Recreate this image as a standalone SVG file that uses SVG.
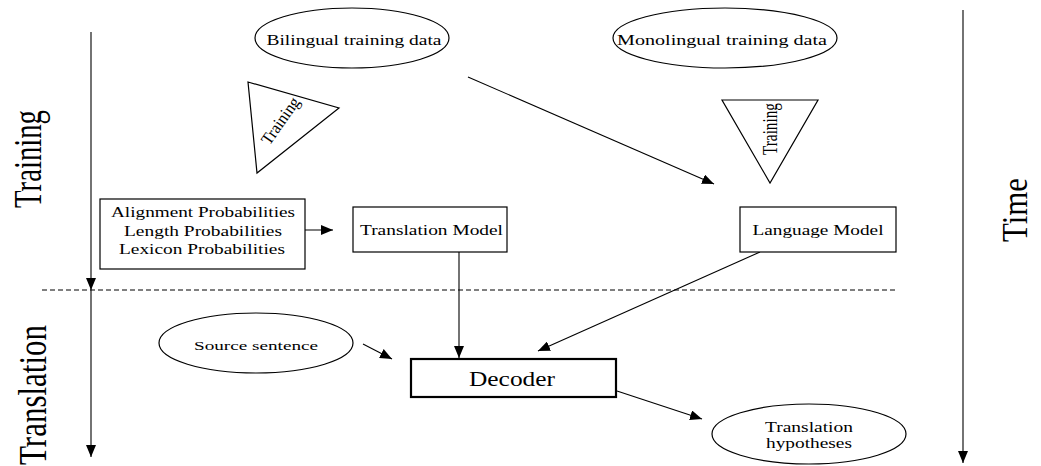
<svg xmlns="http://www.w3.org/2000/svg" width="1041" height="466" viewBox="0 0 1041 466">
  <style>
    text { font-family: "Liberation Serif", "DejaVu Serif", serif; fill: #000; }
    .shape { fill: #fff; stroke: #000; stroke-width: 1.2; }
    .thick { fill: #fff; stroke: #000; stroke-width: 2.2; }
    .conn { fill: none; stroke: #000; stroke-width: 1.1; marker-end: url(#ah); }
    .dash { fill: none; stroke: #000; stroke-width: 1; stroke-dasharray: 5 3; }
  </style>
  <defs>
    <marker id="ah" viewBox="0 0 12 10" refX="12" refY="5" markerWidth="12" markerHeight="10" markerUnits="userSpaceOnUse" orient="auto">
      <path d="M0,0 L12,5 L0,10 z" fill="#000"/>
    </marker>
  </defs>

  <rect width="1041" height="466" fill="#fff"/>

  <!-- phase labels and time axis captions -->
  <g id="label-training">
    <text transform="translate(41,159) rotate(-90)" font-family="Liberation Serif, serif" font-size="41" text-anchor="middle" textLength="98" lengthAdjust="spacingAndGlyphs">Training</text>
  </g>
  <g id="label-translation">
    <text transform="translate(46,395) rotate(-90)" font-family="Liberation Serif, serif" font-size="40" text-anchor="middle" textLength="140" lengthAdjust="spacingAndGlyphs">Translation</text>
  </g>
  <g id="label-time">
    <text transform="translate(1027,210) rotate(-90)" font-family="Liberation Serif, serif" font-size="35" text-anchor="middle" textLength="64" lengthAdjust="spacingAndGlyphs">Time</text>
  </g>

  <!-- connectors -->
  <g id="connectors">
    <line class="dash" x1="42" y1="290" x2="895" y2="290"/>
    <line class="conn" x1="91" y1="32" x2="91" y2="290"/>
    <line class="conn" x1="91" y1="290" x2="91" y2="457"/>
    <line class="conn" x1="963" y1="10" x2="963" y2="463"/>
    <line class="conn" x1="468" y1="77" x2="714" y2="184"/>
    <line class="conn" x1="283" y1="230" x2="333" y2="230"/>
    <line class="conn" x1="459" y1="252" x2="459" y2="358"/>
    <line class="conn" x1="760" y1="252" x2="538" y2="351"/>
    <line class="conn" x1="363" y1="344" x2="392" y2="359"/>
    <line class="conn" x1="617" y1="391" x2="702" y2="419"/>
  </g>

  <!-- data sources -->
  <g id="bilingual-data">
    <ellipse class="shape" cx="352" cy="38" rx="97" ry="30"/>
    <text x="354" y="45" font-size="15" text-anchor="middle" textLength="175" lengthAdjust="spacingAndGlyphs">Bilingual training data</text>
  </g>
  <g id="monolingual-data">
    <ellipse class="shape" cx="725" cy="38" rx="112" ry="30"/>
    <text x="722" y="45" font-size="15" text-anchor="middle" textLength="210" lengthAdjust="spacingAndGlyphs">Monolingual training data</text>
  </g>

  <!-- training steps -->
  <g id="training-left">
    <polygon class="shape" points="248,82 339,108 257,173"/>
    <text transform="translate(285,124) rotate(-55)" font-size="17" text-anchor="middle" textLength="54" lengthAdjust="spacingAndGlyphs">Training</text>
  </g>
  <g id="training-right">
    <polygon class="shape" points="722,100 818,100 770,183"/>
    <text transform="translate(777,129) rotate(-90)" font-size="20" text-anchor="middle" textLength="52" lengthAdjust="spacingAndGlyphs">Training</text>
  </g>

  <!-- models -->
  <g id="probabilities">
    <rect class="shape" x="100" y="199" width="205" height="70"/>
    <text x="203" y="217" font-size="14" text-anchor="middle" textLength="184" lengthAdjust="spacingAndGlyphs">Alignment Probabilities</text>
    <text x="203" y="235.5" font-size="14" text-anchor="middle" textLength="158" lengthAdjust="spacingAndGlyphs">Length Probabilities</text>
    <text x="202" y="254" font-size="14" text-anchor="middle" textLength="166" lengthAdjust="spacingAndGlyphs">Lexicon Probabilities</text>
  </g>
  <g id="translation-model">
    <rect class="shape" x="353" y="207" width="154" height="45"/>
    <text x="431.5" y="235" font-size="15" text-anchor="middle" textLength="143" lengthAdjust="spacingAndGlyphs">Translation Model</text>
  </g>
  <g id="language-model">
    <rect class="shape" x="740" y="207" width="156" height="45"/>
    <text x="818" y="235" font-size="15" text-anchor="middle" textLength="131" lengthAdjust="spacingAndGlyphs">Language Model</text>
  </g>

  <!-- translation phase -->
  <g id="source-sentence">
    <ellipse class="shape" cx="256" cy="343" rx="97" ry="30"/>
    <text x="256" y="350" font-size="13.5" text-anchor="middle" textLength="124" lengthAdjust="spacingAndGlyphs">Source sentence</text>
  </g>
  <g id="decoder">
    <rect class="thick" x="411" y="359" width="205" height="38"/>
    <text x="512" y="386" font-size="20" text-anchor="middle" textLength="86" lengthAdjust="spacingAndGlyphs">Decoder</text>
  </g>
  <g id="translation-hypotheses">
    <ellipse class="shape" cx="809" cy="434" rx="97" ry="30"/>
    <text x="809" y="431.5" font-size="14" text-anchor="middle" textLength="88" lengthAdjust="spacingAndGlyphs">Translation</text>
    <text x="809" y="448" font-size="14" text-anchor="middle" textLength="86" lengthAdjust="spacingAndGlyphs">hypotheses</text>
  </g>
</svg>
